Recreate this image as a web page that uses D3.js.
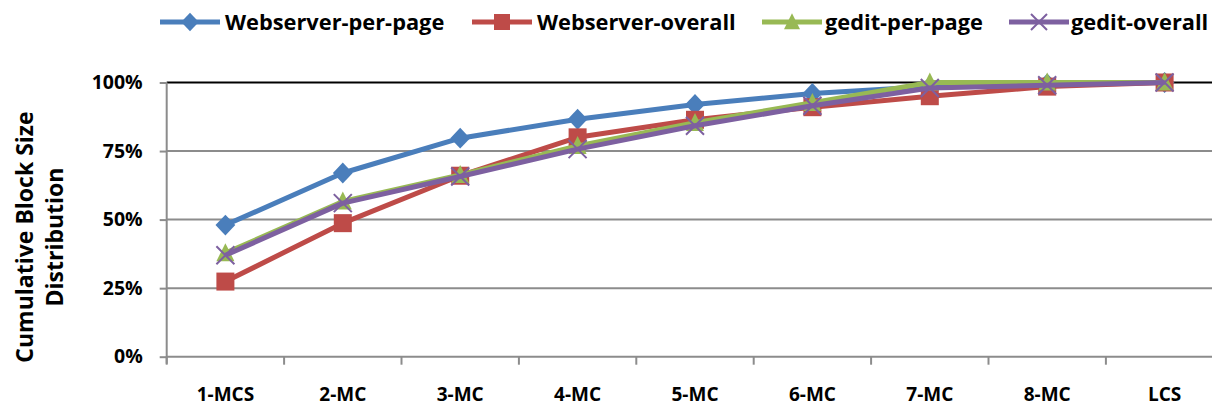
<!DOCTYPE html>
<html>
<head>
<meta charset="utf-8">
<script src="https://cdn.jsdelivr.net/npm/d3@7"></script>
<style>
  html, body { margin: 0; padding: 0; background: #fff; }
  svg { display: block; }
  text { font-family: "Open Sans", Lato, sans-serif; font-weight: bold; fill: #000; }
</style>
</head>
<body>
<svg id="chart" width="1212" height="409"></svg>
<script>
const categories = ["1-MCS", "2-MC", "3-MC", "4-MC", "5-MC", "6-MC", "7-MC", "8-MC", "LCS"];
const webserverPerPage = [48.0, 67.0, 79.7, 86.6, 92.0, 96.0, 98.5, 99.5, 100];
const webserverOverall = [27.4, 48.7, 66.0, 80.0, 86.4, 91.0, 95.0, 98.5, 100];
const geditPerPage     = [37.8, 56.6, 66.3, 76.9, 85.3, 92.6, 100, 100, 100];
const geditOverall     = [37.0, 56.0, 65.7, 75.7, 84.2, 91.5, 98.0, 99.0, 100];
const yTicks = [0, 25, 50, 75, 100];
const yTickLabels = ["0%", "25%", "50%", "75%", "100%"];
const seriesNames = ["Webserver-per-page", "Webserver-overall", "gedit-per-page", "gedit-overall"];

const series = [
  { name: seriesNames[0], values: webserverPerPage, color: "#4A7EBB", marker: "diamond" },
  { name: seriesNames[1], values: webserverOverall, color: "#BE4B48", marker: "square" },
  { name: seriesNames[2], values: geditPerPage,     color: "#98B954", marker: "triangle" },
  { name: seriesNames[3], values: geditOverall,     color: "#7D60A0", marker: "x" }
];

const svg = d3.select("#chart");
const pLeft = 166.7, pRight = 1223.3, pTop = 82.5, pBottom = 356.7;
const FONT = '"Open Sans", Lato, sans-serif';

const x = d3.scaleBand().domain(categories).range([pLeft, pRight]).padding(0);
const y = d3.scaleLinear().domain([0, 100]).range([pBottom, pTop]);
const cx = c => x(c) + x.bandwidth() / 2;

// gridlines
const grid = svg.append("g");
yTicks.forEach(t => {
  if (t === 0) return;
  grid.append("line")
    .attr("x1", pLeft).attr("x2", pRight)
    .attr("y1", y(t)).attr("y2", y(t))
    .attr("stroke", t === 100 ? "#000" : "#8c8c8c")
    .attr("stroke-width", 2);
});

// y axis
const yAxis = d3.axisLeft(y).tickValues(yTicks).tickSize(7).tickPadding(17)
  .tickFormat((d, i) => yTickLabels[i]);
const gy = svg.append("g").attr("transform", `translate(${pLeft},0)`).call(yAxis);
gy.select(".domain").attr("stroke", "#8c8c8c").attr("stroke-width", 2).attr("d", `M0,${pTop}V${pBottom + 7}`);
gy.selectAll(".tick line").attr("stroke", "#8c8c8c").attr("stroke-width", 2);
gy.selectAll(".tick text").style("font-size", "19.5px").style("font-family", FONT).style("font-weight", "bold").attr("fill", "#000");

// x axis
const xAxis = d3.axisBottom(x).tickSize(0).tickPadding(31);
const gx = svg.append("g").attr("transform", `translate(0,${pBottom})`).call(xAxis);
gx.select(".domain").attr("stroke", "#8c8c8c").attr("stroke-width", 2).attr("d", `M${pLeft},0H${pRight}`);
gx.selectAll(".tick text").style("font-size", "19px").style("font-family", FONT).style("font-weight", "bold").attr("fill", "#000");
// boundary ticks
const bounds = categories.map(c => x(c)).concat([pRight]);
gx.selectAll(".btick").data(bounds).enter().append("line")
  .attr("x1", d => d).attr("x2", d => d).attr("y1", 0).attr("y2", 8)
  .attr("stroke", "#8c8c8c").attr("stroke-width", 2);

// marker drawer
function drawMarker(g, type, color, px, py, s) {
  if (type === "diamond") {
    g.append("path").attr("d", `M${px},${py - s * 0.58}L${px + s * 0.55},${py}L${px},${py + s * 0.58}L${px - s * 0.55},${py}Z`).attr("fill", color);
  } else if (type === "square") {
    g.append("rect").attr("x", px - s / 2).attr("y", py - s / 2).attr("width", s).attr("height", s).attr("fill", color);
  } else if (type === "triangle") {
    g.append("path").attr("d", `M${px},${py - s * 0.55}L${px + s * 0.5},${py + s * 0.45}L${px - s * 0.5},${py + s * 0.45}Z`).attr("fill", color);
  } else if (type === "x") {
    const h = s * 0.5;
    g.append("path").attr("d", `M${px - h},${py - h}L${px + h},${py + h}M${px + h},${py - h}L${px - h},${py + h}`)
      .attr("stroke", color).attr("stroke-width", 2).attr("fill", "none");
  }
}

const line = d3.line().x((d, i) => cx(categories[i])).y(d => y(d));
const plot = svg.append("g");
series.forEach(s => {
  const g = plot.append("g");
  g.append("path").datum(s.values).attr("d", line)
    .attr("fill", "none").attr("stroke", s.color).attr("stroke-width", 5)
    .attr("stroke-linejoin", "round");
  s.values.forEach((v, i) => drawMarker(g, s.marker, s.color, cx(categories[i]), y(v), 18));
});

// legend
const legendItems = [
  { x0: 160, tx: 225 },
  { x0: 472, tx: 537 },
  { x0: 762, tx: 825 },
  { x0: 1009, tx: 1071 }
];
const lg = svg.append("g");
series.forEach((s, i) => {
  const it = legendItems[i];
  const ly = 22;
  lg.append("line").attr("x1", it.x0).attr("x2", it.x0 + 60).attr("y1", ly).attr("y2", ly)
    .attr("stroke", s.color).attr("stroke-width", 5);
  drawMarker(lg, s.marker, s.color, it.x0 + 30, ly, 16);
  lg.append("text").attr("x", it.tx).attr("y", 30)
    .style("font-size", "21.8px").text(s.name);
});

// y axis title
const yt = svg.append("text")
  .attr("transform", `translate(0,237) rotate(-90)`)
  .attr("text-anchor", "middle")
  .style("font-size", "23px");
yt.append("tspan").attr("x", 0).attr("y", 33).text("Cumulative Block Size");
yt.append("tspan").attr("x", 0).attr("y", 63).text("Distribution");
</script>
</body>
</html>
